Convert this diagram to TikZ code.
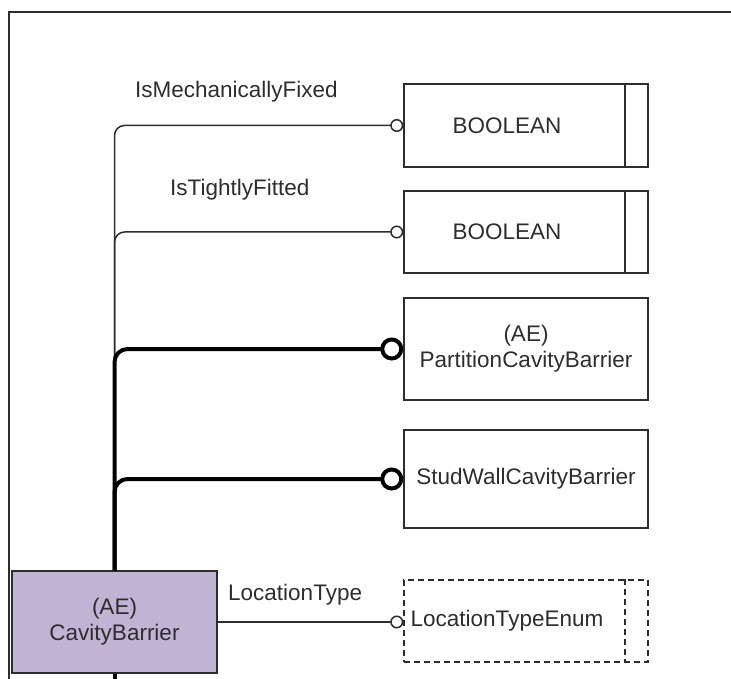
\documentclass[tikz,border=0pt]{standalone}
\usepackage{fontspec}
\setmainfont{Liberation Sans}
\usetikzlibrary{arrows.meta}
\definecolor{aepurple}{RGB}{192,179,211}
\definecolor{inkgray}{RGB}{45,45,45}
\begin{document}
\begin{tikzpicture}[x=1pt, y=-1pt,
    font=\fontsize{22.5}{26}\selectfont, text=inkgray,
    every node/.style={inner sep=0pt},
    entity/.style={draw=inkgray, line width=1.5pt, minimum width=244pt},
    typebox/.style={entity, minimum height=83pt},
    enumdash/.style={dash pattern=on 6pt off 4pt},
    thinrel/.style={draw=inkgray, line width=1.5pt, rounded corners=10pt,
      -{Circle[open,length=13pt]}},
    thickrel/.style={draw=black, line width=4pt, rounded corners=13pt,
      -{Circle[open,length=23pt]}}]
  \useasboundingbox (0,0) rectangle (731,679);
  \draw[inkgray, line width=1.5pt] (9,679) -- (9,12) -- (731,12);

  % entities
  \node[entity, fill=aepurple, minimum width=205pt, minimum height=102pt,
    align=center] (Barrier) at (114.5,622) {(AE)\\CavityBarrier};
  \node[typebox, label={[name=Bool1-text, xshift=-19pt]center:BOOLEAN}]
    (Bool1) at (526,125.5) {};
  \node[typebox, minimum height=82pt,
    label={[name=Bool2-text, xshift=-19pt]center:BOOLEAN}]
    (Bool2) at (526,232) {};
  \node[entity, minimum height=102pt, align=center]
    (Partition) at (526,349) {(AE)\\PartitionCavityBarrier};
  \node[entity, minimum height=98pt] (StudWall) at (526,479) {StudWallCavityBarrier};
  \node[typebox, minimum height=82pt, enumdash,
    label={[name=Enum-text, xshift=-19pt]center:LocationTypeEnum}]
    (Enum) at (526,621) {};
  \foreach \ent/\pat in {Bool1/solid, Bool2/solid, Enum/enumdash}
    \draw[inkgray, line width=1.5pt, \pat]
      ([xshift=-24pt]\ent.north east) -- ([xshift=-24pt]\ent.south east);

  % relations
  \draw[thinrel] (Barrier.north) |- (Bool1.west);
  \draw[thinrel] (Barrier.north) |- (Bool2.west);
  \draw[thickrel] (Barrier.north) |- (Partition.west);
  \draw[thickrel] (Barrier.north) |- (StudWall.west);
  \draw[thinrel] (Barrier.east) -- (Barrier.east -| Enum.west);
  \coordinate (Bottom) at (114.5,679);
  \draw[line width=4pt] (Barrier.south) -- (Bottom);

  \begin{scope}[every node/.append style={anchor=west}]
    \node (Fixed) at (135,92) {IsMechanicallyFixed};
    \node (Fitted) at (170,190) {IsTightlyFitted};
    \node (Location) at (228,595) {LocationType};
  \end{scope}
\end{tikzpicture}
\end{document}
